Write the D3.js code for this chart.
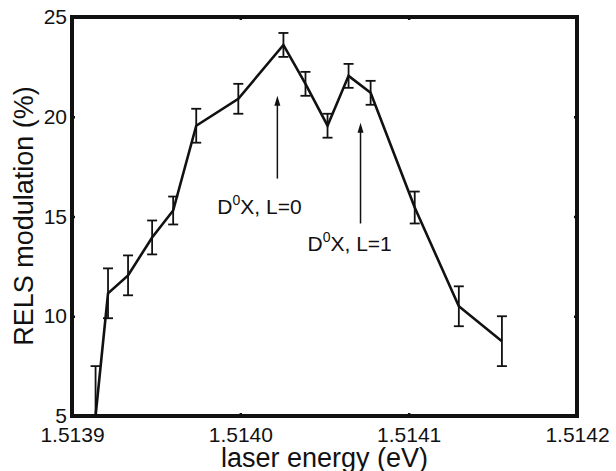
<!DOCTYPE html>
<html>
<head>
<meta charset="utf-8">
<script src="https://cdn.jsdelivr.net/npm/d3@7"></script>
<style>
  body { margin: 0; background: #fff; }
  text { font-family: "Liberation Sans", Arial, sans-serif; fill: #111; }
</style>
</head>
<body>
<script>
// data
var energy = [1.513914, 1.5139214, 1.5139333, 1.5139476, 1.5139601, 1.5139738, 1.5139988,
              1.5140256, 1.5140387, 1.5140518, 1.5140643, 1.5140774, 1.5141036, 1.5141298, 1.5141554];
var modulation = [5.0, 11.15, 12.05, 13.95, 15.3, 19.55, 20.9, 23.6, 21.65, 19.55, 22.05, 21.2, 15.45, 10.5, 8.75];
var errors = [2.5, 1.25, 1.0, 0.85, 0.7, 0.85, 0.75, 0.6, 0.6, 0.6, 0.6, 0.6, 0.8, 1.0, 1.25];

var xTicks = [1.5139, 1.5140, 1.5141, 1.5142];
var yTicks = [5, 10, 15, 20, 25];

// arrow annotations (energy, tip, base) and their labels
var arrowEnergy = [1.514022, 1.5140714];
var arrowTip = [21.05, 19.7];
var arrowBase = [16.9, 14.65];
var arrowLabel = ["L=0", "L=1"];

var width = 616, height = 471;
var margin = {top: 17, right: 39, bottom: 55, left: 72};

var svg = d3.select("body").append("svg")
    .attr("width", width).attr("height", height);

var x = d3.scaleLinear().domain([1.5139, 1.5142]).range([margin.left, width - margin.right]);
var y = d3.scaleLinear().domain([5, 25]).range([height - margin.bottom, margin.top]);

svg.append("defs").append("clipPath").attr("id", "plot")
  .append("rect")
    .attr("x", x.range()[0]).attr("y", y.range()[1])
    .attr("width", x.range()[1] - x.range()[0])
    .attr("height", y.range()[0] - y.range()[1]);

var fmt = d3.format(".4f");

//////////// AXES ////////////
var gx = svg.append("g").attr("transform", "translate(0," + y(5) + ")")
    .call(d3.axisBottom(x).tickValues(xTicks).tickFormat(fmt).tickSizeInner(-3).tickSizeOuter(0).tickPadding(11));
var gxTop = svg.append("g").attr("transform", "translate(0," + y(25) + ")")
    .call(d3.axisTop(x).tickValues(xTicks).tickFormat("").tickSizeInner(-3).tickSizeOuter(0));
var gy = svg.append("g").attr("transform", "translate(" + x(1.5139) + ",0)")
    .call(d3.axisLeft(y).tickValues(yTicks).tickSizeInner(-3).tickSizeOuter(0).tickPadding(5));
var gyRight = svg.append("g").attr("transform", "translate(" + x(1.5142) + ",0)")
    .call(d3.axisRight(y).tickValues(yTicks).tickFormat("").tickSizeInner(-3).tickSizeOuter(0));

svg.selectAll(".domain").remove();
svg.selectAll(".tick line").attr("stroke", "#111").attr("stroke-width", 2.5);
svg.selectAll(".tick text").attr("font-size", 21).attr("fill", "#111")
    .style("font-family", "'Liberation Sans', Arial, sans-serif");

// frame
svg.append("rect")
    .attr("x", x(1.5139)).attr("y", y(25))
    .attr("width", x(1.5142) - x(1.5139)).attr("height", y(5) - y(25))
    .attr("fill", "none").attr("stroke", "#111").attr("stroke-width", 4);

// axis titles
svg.append("text")
    .attr("x", (x.range()[0] + x.range()[1]) / 2).attr("y", 467)
    .attr("text-anchor", "middle").attr("font-size", 27)
    .text("laser energy (eV)");

svg.append("text")
    .attr("transform", "translate(33," + 216 + ") rotate(-90)")
    .attr("text-anchor", "middle").attr("font-size", 27)
    .text("RELS modulation (%)");

//////////// DATA ////////////
var pts = energy.map(function(e, i) { return {x: e, y: modulation[i], err: errors[i]}; });
var plot = svg.append("g").attr("clip-path", "url(#plot)");

var line = d3.line().x(function(d) { return x(d.x); }).y(function(d) { return y(d.y); });
plot.append("path").datum(pts)
    .attr("d", line)
    .attr("fill", "none").attr("stroke", "#111").attr("stroke-width", 2.6)
    .attr("stroke-linejoin", "miter");

var bars = plot.selectAll(".err").data(pts).enter().append("g").attr("class", "err")
    .attr("stroke", "#111").attr("stroke-width", 1.8);
bars.append("line")
    .attr("x1", function(d) { return x(d.x); }).attr("x2", function(d) { return x(d.x); })
    .attr("y1", function(d) { return y(d.y - d.err); }).attr("y2", function(d) { return y(d.y + d.err); });
bars.append("line")
    .attr("x1", function(d) { return x(d.x) - 5; }).attr("x2", function(d) { return x(d.x) + 5; })
    .attr("y1", function(d) { return y(d.y + d.err); }).attr("y2", function(d) { return y(d.y + d.err); });
bars.append("line")
    .attr("x1", function(d) { return x(d.x) - 5; }).attr("x2", function(d) { return x(d.x) + 5; })
    .attr("y1", function(d) { return y(d.y - d.err); }).attr("y2", function(d) { return y(d.y - d.err); });

//////////// ANNOTATIONS ////////////
var labelOffset = [[-60, 35], [-53, 28]];
arrowEnergy.forEach(function(e, i) {
  var ax = x(e), tip = y(arrowTip[i]), base = y(arrowBase[i]);
  svg.append("line")
      .attr("x1", ax).attr("x2", ax).attr("y1", base).attr("y2", tip + 8)
      .attr("stroke", "#111").attr("stroke-width", 1.5);
  svg.append("path")
      .attr("d", "M" + ax + "," + tip + " L" + (ax - 3) + "," + (tip + 10) + " L" + (ax + 3) + "," + (tip + 10) + "Z")
      .attr("fill", "#111");
  var t = svg.append("text")
      .attr("x", ax + labelOffset[i][0]).attr("y", base + labelOffset[i][1])
      .attr("font-size", 21);
  t.append("tspan").text("D");
  t.append("tspan").attr("font-size", 14).attr("dy", -9).text("0");
  t.append("tspan").attr("dy", 9).text("X, " + arrowLabel[i]);
});
</script>
</body>
</html>
